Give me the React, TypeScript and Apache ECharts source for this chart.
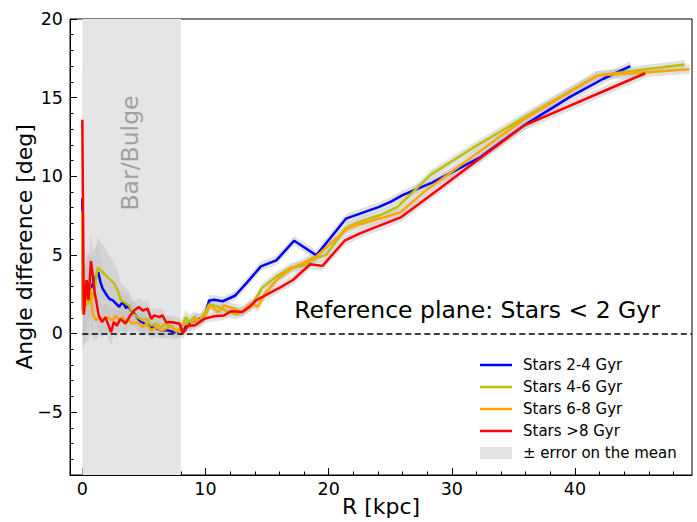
import React, { useEffect, useRef } from 'react';
import * as echarts from 'echarts';

const seriesNames = ['Stars 2-4 Gyr', 'Stars 4-6 Gyr', 'Stars 6-8 Gyr', 'Stars >8 Gyr'];
const seriesColors = ['#0000ff', '#bfbf00', '#ffa500', '#ff0000'];
const bandLabel = '\u00b1 error on the mean';

// Stars 2-4 Gyr
const r24 = [0, 0.05, 0.16, 0.43, 0.7, 0.98, 1.3, 1.46, 1.65, 1.93, 2.2, 2.47, 2.74, 3.0, 3.28, 3.55, 3.69, 3.96, 4.23, 4.63, 4.9, 5.17, 5.58, 6.0, 6.4, 6.94, 7.48, 8.0, 8.3, 8.7, 9.1, 9.5, 9.9, 10.3, 10.7, 11.4, 12.4, 13.4, 14.5, 15.75, 17.2, 19.0, 21.4, 24.1, 25.1, 26.0, 28.4, 32.3, 35.8, 39.6, 42.3, 44.5];
const a24 = [8.6, 1.5, 1.7, 3.1, 2.9, 3.4, 3.9, 3.3, 2.85, 2.5, 2.2, 2.1, 1.9, 1.7, 2.0, 1.6, 1.8, 1.45, 1.25, 0.85, 0.7, 0.57, 0.4, 0.34, 0.2, 0.2, 0.08, 0.2, 0.4, 0.6, 0.83, 0.93, 1.04, 2.1, 2.15, 2.05, 2.4, 3.27, 4.27, 4.65, 5.9, 4.97, 7.3, 8.05, 8.4, 8.8, 9.6, 11.2, 13.2, 15.05, 16.2, 17.0];
const e24 = [3.6, 2.2, 2.2, 2.0, 2.0, 2.0, 1.8, 1.6, 1.4, 1.2, 1.1, 1.0, 0.9, 0.9, 0.9, 0.8, 0.8, 0.8, 0.7, 0.7, 0.7, 0.6, 0.6, 0.6, 0.5, 0.5, 0.45, 0.45, 0.4, 0.4, 0.4, 0.35, 0.35, 0.35, 0.3, 0.3, 0.3, 0.3, 0.3, 0.3, 0.3, 0.3, 0.3, 0.3, 0.3, 0.3, 0.3, 0.3, 0.3, 0.3, 0.3, 0.3];

// Stars 4-6 Gyr
const r46 = [0, 0.05, 0.16, 0.45, 0.7, 0.98, 1.25, 1.5, 1.79, 2.2, 2.6, 2.87, 3.14, 3.4, 3.8, 4.1, 4.5, 4.9, 5.2, 5.6, 6.0, 6.4, 6.8, 7.2, 7.6, 8.0, 8.4, 8.7, 9.1, 9.5, 9.9, 10.3, 11.0, 11.8, 12.5, 13.7, 14.6, 15.7, 17.0, 17.9, 19.0, 19.8, 21.4, 22.5, 24.1, 25.6, 28.3, 31.7, 35.8, 41.8, 48.9];
const a46 = [7.8, 1.2, 1.7, 1.9, 2.1, 2.74, 4.2, 4.0, 3.8, 3.48, 3.16, 2.74, 2.1, 2.0, 1.78, 1.25, 1.04, 0.83, 0.93, 0.5, 0.62, 0.4, 0.62, 0.4, 0.23, 0.3, 1.04, 0.72, 1.04, 0.83, 1.25, 1.85, 1.7, 1.4, 1.2, 1.7, 2.9, 3.6, 4.2, 4.3, 4.8, 5.0, 6.7, 7.1, 7.5, 8.05, 10.1, 11.8, 13.7, 16.4, 17.1];
const e46 = [4.5, 2.4, 2.4, 2.4, 2.2, 2.0, 1.9, 1.8, 1.7, 1.5, 1.3, 1.2, 1.1, 1.0, 0.9, 0.8, 0.8, 0.7, 0.7, 0.6, 0.6, 0.55, 0.5, 0.5, 0.5, 0.5, 0.45, 0.45, 0.4, 0.4, 0.4, 0.35, 0.35, 0.35, 0.3, 0.3, 0.3, 0.3, 0.3, 0.3, 0.3, 0.3, 0.3, 0.3, 0.3, 0.3, 0.3, 0.3, 0.3, 0.3, 0.3];

// Stars 6-8 Gyr
const r68 = [0, 0.08, 0.3, 0.57, 0.84, 1.1, 1.38, 1.65, 2.06, 2.47, 2.74, 3.0, 3.28, 3.55, 3.8, 4.1, 4.5, 4.9, 5.2, 5.6, 6.0, 6.4, 6.8, 7.2, 7.6, 8.0, 8.4, 8.7, 9.1, 9.5, 9.9, 10.4, 11.0, 11.5, 12.4, 12.9, 13.7, 14.25, 14.8, 15.75, 17.0, 19.0, 21.4, 22.3, 24.1, 25.8, 27.9, 35.8, 41.8, 45.5, 49.3];
const a68 = [7.6, 1.3, 2.0, 3.3, 1.25, 0.83, 1.04, 0.83, 1.04, 0.83, 1.15, 0.83, 1.04, 0.72, 0.83, 0.62, 0.72, 0.4, 0.62, 0.19, 0.4, 0.19, 0.3, 0.5, 0.13, 0.19, 0.72, 0.4, 0.93, 0.72, 1.04, 1.8, 1.36, 1.78, 1.57, 1.36, 1.9, 1.7, 2.5, 3.38, 4.12, 4.9, 6.6, 6.9, 7.3, 7.7, 9.1, 13.6, 16.4, 16.6, 16.8];
const e68 = [3.6, 2.0, 2.0, 2.0, 1.6, 1.3, 1.1, 1.0, 0.9, 0.8, 0.8, 0.8, 0.7, 0.7, 0.7, 0.6, 0.6, 0.6, 0.5, 0.5, 0.5, 0.45, 0.45, 0.45, 0.4, 0.4, 0.4, 0.35, 0.35, 0.35, 0.35, 0.3, 0.3, 0.3, 0.3, 0.3, 0.3, 0.3, 0.3, 0.3, 0.3, 0.3, 0.3, 0.3, 0.3, 0.3, 0.3, 0.3, 0.3, 0.3, 0.3];

// Stars >8 Gyr
const r8 = [0, 0.12, 0.35, 0.5, 0.7, 0.85, 1.0, 1.15, 1.33, 1.6, 1.87, 2.14, 2.33, 2.55, 2.8, 3.1, 3.5, 3.9, 4.2, 4.6, 4.9, 5.3, 5.6, 5.85, 6.26, 6.5, 6.8, 7.3, 7.9, 8.15, 8.6, 9.1, 9.9, 10.7, 11.5, 12.1, 13.0, 13.7, 14.1, 14.8, 16.0, 17.1, 18.5, 19.5, 21.3, 22.5, 23.3, 25.9, 28.8, 35.8, 45.7];
const a8 = [13.6, 1.2, 3.4, 2.1, 4.6, 3.7, 2.6, 2.0, 1.15, 0.72, 1.04, 0.5, 0.08, 0.72, 0.5, 0.93, 0.62, 1.15, 1.46, 1.68, 1.46, 1.57, 0.93, 1.15, 1.04, 1.15, 0.72, 0.72, 0.62, 0.0, 0.5, 0.5, 0.93, 1.1, 1.15, 1.42, 1.36, 1.78, 2.1, 2.4, 2.9, 3.4, 4.4, 4.3, 5.9, 6.35, 6.6, 7.4, 9.1, 13.2, 16.55];
const e8 = [3.6, 2.0, 2.0, 2.0, 1.8, 1.6, 1.5, 1.3, 1.1, 1.0, 0.9, 0.9, 0.8, 0.8, 0.8, 0.7, 0.7, 0.7, 0.6, 0.6, 0.6, 0.55, 0.55, 0.5, 0.5, 0.45, 0.45, 0.4, 0.4, 0.4, 0.35, 0.35, 0.3, 0.3, 0.3, 0.3, 0.3, 0.3, 0.3, 0.3, 0.3, 0.3, 0.3, 0.3, 0.3, 0.3, 0.3, 0.3, 0.3, 0.3, 0.3];

const xMajorTicks = [0, 10, 20, 30, 40];
const xMinorTicks = [2, 4, 6, 8, 12, 14, 16, 18, 22, 24, 26, 28, 32, 34, 36, 38, 42, 44, 46, 48];
const yMajorTicks = [-5, 0, 5, 10, 15, 20];
const yMinorTicks = [-9, -8, -7, -6, -4, -3, -2, -1, 1, 2, 3, 4, 6, 7, 8, 9, 11, 12, 13, 14, 16, 17, 18, 19];
const xRange = [-1, 49.5];
const yRange = [-9, 20];
const barBulge = [0, 8];
const refLevel = 0;

const FONT = 'DejaVu Sans';

function pairs(rs: number[], vs: number[]) {
  const n = Math.min(rs.length, vs.length);
  const out: number[][] = [];
  for (let i = 0; i < n; i++) out.push([rs[i], vs[i]]);
  return out;
}

function bandSeries(rs: number[], vs: number[], es: number[]) {
  const n = Math.min(rs.length, vs.length, es.length);
  const data: number[][] = [];
  for (let i = 0; i < n; i++) data.push([rs[i], vs[i] - es[i], vs[i] + es[i]]);
  return {
    type: 'custom',
    z: 2,
    silent: true,
    clip: true,
    data,
    encode: { x: 0, y: [1, 2] },
    renderItem: (params: any, api: any) => {
      if (params.dataIndex !== 0) return null;
      const up: number[][] = [];
      const lo: number[][] = [];
      for (const d of data) {
        up.push(api.coord([d[0], d[2]]));
        lo.push(api.coord([d[0], d[1]]));
      }
      return {
        type: 'polygon',
        shape: { points: up.concat(lo.reverse()) },
        style: { fill: 'rgba(195,195,195,0.5)' },
      };
    },
  };
}

export default function App() {
  const ref = useRef<HTMLDivElement>(null);
  useEffect(() => {
    if (!ref.current) return;
    const chart = echarts.init(ref.current, undefined, { renderer: 'svg' });
    const lineSets = [
      [r24, a24, e24],
      [r46, a46, e46],
      [r68, a68, e68],
      [r8, a8, e8],
    ];
    const fmt = (v: number) => (v < 0 ? '\u2212' + Math.abs(v) : String(v));

    const legendY = [365, 387, 409, 431, 453];
    const legendGraphics: any[] = [];
    seriesNames.forEach((name, i) => {
      legendGraphics.push({
        type: 'line',
        shape: { x1: 480, y1: legendY[i], x2: 512, y2: legendY[i] },
        style: { stroke: seriesColors[i], lineWidth: 2.5 },
        z: 100,
      });
      legendGraphics.push({
        type: 'text',
        x: 523,
        y: legendY[i],
        style: { text: name, fontSize: 15, fontFamily: FONT, fill: '#000', verticalAlign: 'middle', align: 'left' },
        z: 100,
      });
    });
    legendGraphics.push({
      type: 'rect',
      shape: { x: 480, y: legendY[4] - 6, width: 32, height: 12 },
      style: { fill: '#e3e3e3' },
      z: 100,
    });
    legendGraphics.push({
      type: 'text',
      x: 523,
      y: legendY[4],
      style: { text: bandLabel, fontSize: 15, fontFamily: FONT, fill: '#000', verticalAlign: 'middle', align: 'left' },
      z: 100,
    });

    const option: any = {
      animation: false,
      backgroundColor: '#fff',
      textStyle: { fontFamily: FONT },
      grid: {
        left: 70, right: 5, top: 19, bottom: 47, show: true, borderColor: '#000', borderWidth: 1,
        backgroundColor: 'transparent', containLabel: false, outerBoundsMode: 'none',
      },
      xAxis: [
        {
          type: 'value', min: xRange[0], max: xRange[1],
          name: 'R [kpc]', nameLocation: 'middle', nameGap: 20, nameMoveOverlap: false,
          nameTextStyle: { fontSize: 22, color: '#000', fontFamily: FONT },
          axisLine: { show: true, onZero: false, lineStyle: { color: '#000', width: 1 } },
          axisTick: { show: true, inside: true, length: 7, customValues: xMajorTicks, lineStyle: { color: '#000' } },
          axisLabel: { customValues: xMajorTicks, fontSize: 17.5, color: '#000', margin: 5, fontFamily: FONT },
          splitLine: { show: false },
        },
        {
          type: 'value', min: xRange[0], max: xRange[1], position: 'bottom',
          axisLine: { show: false, onZero: false },
          axisTick: { show: true, inside: true, length: 3.5, customValues: xMinorTicks, lineStyle: { color: '#000' } },
          axisLabel: { show: false },
          splitLine: { show: false },
        },
      ],
      yAxis: [
        {
          type: 'value', min: yRange[0], max: yRange[1],
          name: 'Angle difference [deg]', nameLocation: 'middle', nameGap: 35, nameMoveOverlap: false,
          nameTextStyle: { fontSize: 22, color: '#000', fontFamily: FONT },
          axisLine: { show: true, onZero: false, lineStyle: { color: '#000', width: 1 } },
          axisTick: { show: true, inside: true, length: 7, customValues: yMajorTicks, lineStyle: { color: '#000' } },
          axisLabel: { customValues: yMajorTicks, fontSize: 17.5, color: '#000', margin: 7, fontFamily: FONT, formatter: fmt },
          splitLine: { show: false },
        },
        {
          type: 'value', min: yRange[0], max: yRange[1], position: 'left',
          axisLine: { show: false, onZero: false },
          axisTick: { show: true, inside: true, length: 3.5, customValues: yMinorTicks, lineStyle: { color: '#000' } },
          axisLabel: { show: false },
          splitLine: { show: false },
        },
      ],
      series: [
        {
          type: 'line', z: 1, silent: true, data: [[barBulge[0], refLevel]], symbol: 'none',
          lineStyle: { width: 0, opacity: 0 },
          markArea: {
            silent: true, z: 1,
            itemStyle: { color: '#e5e5e5' },
            data: [[{ xAxis: barBulge[0] }, { xAxis: barBulge[1] }]],
          },
        },
        ...lineSets.map((s) => bandSeries(s[0], s[1], s[2])),
        {
          type: 'line', z: 3, silent: true, data: [[barBulge[0], refLevel]], symbol: 'none',
          lineStyle: { width: 0, opacity: 0 },
          markLine: {
            silent: true, z: 3, symbol: 'none', label: { show: false },
            lineStyle: { color: '#000', type: [6, 3.5], width: 1.5 },
            data: [[{ coord: [0, refLevel] }, { coord: [xRange[1], refLevel] }]],
          },
        },
        ...lineSets.map((s, i) => ({
          type: 'line', name: seriesNames[i], z: 10 + i, data: pairs(s[0], s[1]),
          symbol: 'none', showSymbol: false, clip: true,
          lineStyle: { color: seriesColors[i], width: 2.5 },
          itemStyle: { color: seriesColors[i] },
        })),
      ],
      graphic: [
        {
          type: 'text', x: 130, y: 153, rotation: Math.PI / 2, z: 50,
          style: { text: 'Bar/Bulge', fontSize: 23.5, fontFamily: FONT, fill: '#a0a0a0', align: 'center', verticalAlign: 'middle' },
        },
        {
          type: 'text', x: 477, y: 310, z: 50,
          style: { text: 'Reference plane: Stars < 2 Gyr', fontSize: 23.5, fontFamily: FONT, fill: '#000', align: 'center', verticalAlign: 'middle' },
        },
        ...legendGraphics,
      ],
    };
    chart.setOption(option);
    return () => chart.dispose();
  }, []);
  return <div ref={ref} style={{ position: 'fixed', left: 0, top: 0, width: 697, height: 522 }} />;
}
